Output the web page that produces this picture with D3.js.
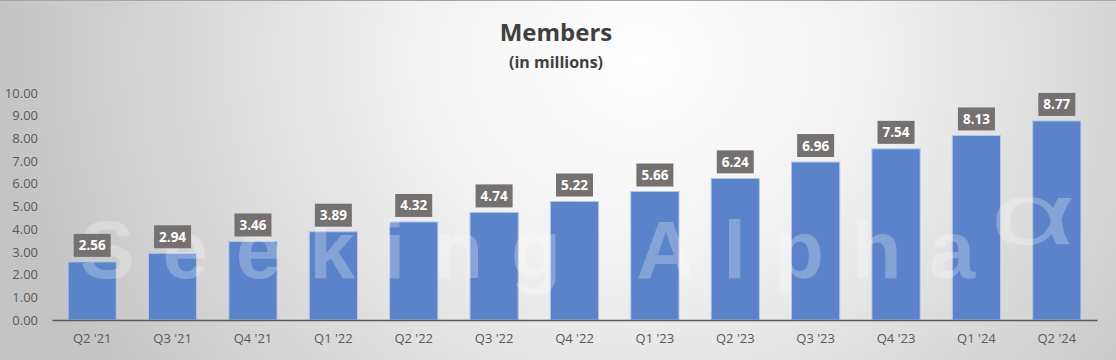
<!DOCTYPE html>
<html><head><meta charset="utf-8">
<script src="https://cdn.jsdelivr.net/npm/d3@7"></script>
<style>html,body{margin:0;padding:0;background:#fff;}svg{display:block;}</style>
</head><body>
<script>
const categories = ["Q2 '21","Q3 '21","Q4 '21","Q1 '22","Q2 '22","Q3 '22","Q4 '22","Q1 '23","Q2 '23","Q3 '23","Q4 '23","Q1 '24","Q2 '24"];
const members = [2.56,2.94,3.46,3.89,4.32,4.74,5.22,5.66,6.24,6.96,7.54,8.13,8.77];
const yTicks = [0,1,2,3,4,5,6,7,8,9,10];
const title = "Members";
const subtitle = "(in millions)";

const W = 1116, H = 360;
const svg = d3.select("body").append("svg").attr("width", W).attr("height", H);
const defs = svg.append("defs");
const rg = defs.append("radialGradient").attr("id","bg")
  .attr("gradientUnits","userSpaceOnUse").attr("cx",640).attr("cy",60).attr("r",640)
  .attr("gradientTransform","translate(640,60) scale(1,0.9) translate(-640,-60)");
rg.append("stop").attr("offset","0%").attr("stop-color","#ffffff");
rg.append("stop").attr("offset","35%").attr("stop-color","#f2f2f2");
rg.append("stop").attr("offset","100%").attr("stop-color","#c4c4c4");
svg.append("rect").attr("width",W).attr("height",H).attr("fill","url(#bg)");
svg.append("line").attr("x1",0).attr("x2",W).attr("y1",0.5).attr("y2",0.5).attr("stroke","#a6a6a6");

const x = d3.scaleBand().domain(categories).range([52,1097]).paddingInner(0.4).paddingOuter(0.2);
const y = d3.scaleLinear().domain([0,10]).range([320,93]);

const font = "'Open Sans', 'Segoe UI', sans-serif";

// y axis labels
const yAxis = d3.axisLeft(y).tickValues(yTicks).tickFormat(d3.format(".2f")).tickSize(0).tickPadding(0);
const ya = svg.append("g").attr("transform","translate(38,0)").call(yAxis);
ya.select(".domain").remove();
ya.selectAll("text").attr("font-family",font).attr("font-size",13).attr("fill","#595959");

// bars
svg.append("g").selectAll("rect").data(members).join("rect")
  .attr("x",(d,i)=>x(categories[i])).attr("width",x.bandwidth())
  .attr("y",d=>y(d)).attr("height",d=>y(0)-y(d))
  .attr("fill","#5b83ca").attr("stroke","#b4c8ec").attr("stroke-width",1);

// watermark (drawn over bars, translucent)
const wm = svg.append("g").attr("fill","#ffffff").attr("fill-opacity",0.26)
  .attr("font-family","'Liberation Sans', sans-serif").attr("pointer-events","none");
wm.append("text").attr("x",80).attr("y",278).attr("font-size",82).attr("font-weight","bold")
  .attr("textLength",895).attr("lengthAdjust","spacing").text("Seeking Alpha");
wm.append("text").attr("transform","translate(990,244) scale(1.7,1)").attr("font-size",88).text("α");

// x axis
const xAxis = d3.axisBottom(x).tickSize(0).tickPadding(14);
const xa = svg.append("g").attr("transform",`translate(0,${y(0)})`).call(xAxis);
xa.select(".domain").attr("stroke","#595959").attr("stroke-width",1.5);
xa.selectAll("text").attr("font-family",font).attr("font-size",13).attr("fill","#595959");

// labels
const lg = svg.append("g").selectAll("g").data(members).join("g")
  .attr("transform",(d,i)=>`translate(${x(categories[i])+x.bandwidth()/2},${y(d)-5})`);
lg.append("rect").attr("x",-18.5).attr("y",-23).attr("width",37).attr("height",23).attr("fill","#767171");
lg.append("text").attr("y",-6.5).attr("text-anchor","middle").attr("font-family",font)
  .attr("font-weight","bold").attr("font-size",13.5).attr("fill","#ffffff").text(d=>d3.format(".2f")(d));

// titles
svg.append("text").attr("x",556).attr("y",41).attr("text-anchor","middle").attr("font-family",font)
  .attr("font-weight","bold").attr("font-size",24).attr("fill","#404040").text(title);
svg.append("text").attr("x",556).attr("y",68).attr("text-anchor","middle").attr("font-family",font)
  .attr("font-weight","bold").attr("font-size",16).attr("fill","#404040").text(subtitle);
</script>
</body></html>
